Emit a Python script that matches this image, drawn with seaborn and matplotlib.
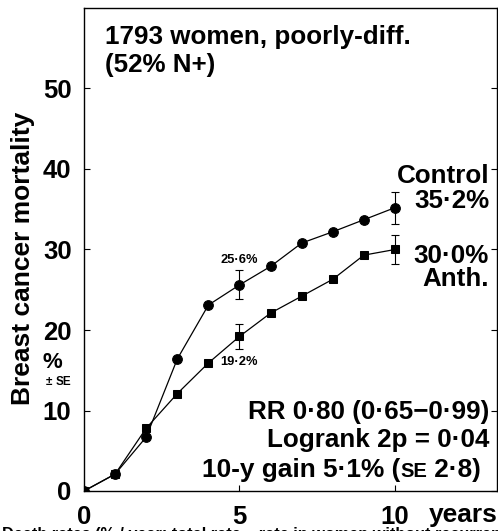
import pandas as pd
import matplotlib
matplotlib.use('Agg')
import matplotlib.pyplot as plt
import seaborn as sns

# data
years = [0, 1, 2, 3, 4, 5, 6, 7, 8, 9, 10]
control = [0, 2.1, 6.7, 16.4, 23.1, 25.6, 27.9, 30.8, 32.2, 33.7, 35.2]
anth = [0, 2.1, 7.8, 12.1, 15.9, 19.2, 22.1, 24.2, 26.3, 29.3, 30.0]
se_years = [5, 10]
control_se = [1.8, 2.0]
anth_se = [1.5, 1.85]

df = pd.DataFrame({'year': years, 'Control': control, 'Anth.': anth})

sns.set_style('ticks')
plt.rcParams['font.family'] = ['Liberation Sans', 'DejaVu Sans']
plt.rcParams['font.weight'] = 'bold'
for k in ['text.color', 'axes.labelcolor', 'xtick.color', 'ytick.color', 'axes.edgecolor']:
    plt.rcParams[k] = 'black'

W, H = 498, 531
fig = plt.figure(figsize=(W / 100, H / 100), dpi=100)
ax = fig.add_axes([84 / W, 1 - 491 / H, 413 / W, 483 / H])
renderer = fig.canvas.get_renderer()


def ftext(x, y, s, size, ha='center', va='center', **kw):
    # place text by pixel position in the figure
    return fig.text(x / W, 1 - y / H, s, fontsize=size, fontweight='bold', ha=ha, va=va, **kw)


def rtext_parts(x, y, parts):
    # right-aligned run of pieces with different sizes (for small-caps "SE")
    for s, size in reversed(parts):
        t = ftext(x, y, s, size, ha='right', va='baseline')
        x -= t.get_window_extent(renderer).width


sns.lineplot(data=df, x='year', y='Control', ax=ax, color='black', lw=0.9,
             marker='o', markersize=7, markeredgecolor='black')
sns.lineplot(data=df, x='year', y='Anth.', ax=ax, color='black', lw=0.9,
             marker='s', markersize=6.3, markeredgecolor='black')

ctrl_at = [control[years.index(y)] for y in se_years]
anth_at = [anth[years.index(y)] for y in se_years]
ax.errorbar(se_years, ctrl_at, yerr=control_se, fmt='none', ecolor='black',
            elinewidth=0.8, capsize=3, capthick=0.8)
ax.errorbar(se_years, anth_at, yerr=anth_se, fmt='none', ecolor='black',
            elinewidth=0.8, capsize=3, capthick=0.8)

ax.set_xlim(0, 13.28)
ax.set_ylim(0, 60)
ax.set_xticks([0, 5, 10])
ax.set_yticks([0, 10, 20, 30, 40, 50])
ax.tick_params(axis='both', direction='in', length=4, width=0.8,
               labelsize=18.5, right=True)
ax.tick_params(axis='y', pad=9)
ax.tick_params(axis='x', pad=10)
for lab in ax.get_xticklabels() + ax.get_yticklabels():
    lab.set_fontweight('bold')
for s in ax.spines.values():
    s.set_linewidth(1.0)
    s.set_visible(True)

ax.set_xlabel('')
ax.set_ylabel('')
ftext(23, 258, 'Breast cancer mortality', 19, rotation=90)

# text annotations
ftext(105, 37, '1793 women, poorly-diff.', 18.7, ha='left')
ftext(105, 65, '(52% N+)', 18.7, ha='left')
ftext(52, 362, '%', 16)
ftext(49, 382, '±', 8.5)
ftext(63, 382, 'SE', 8.5)

ftext(489, 176, 'Control', 18.7, ha='right')
ftext(489, 201, '35·2%', 18.7, ha='right')
ftext(489, 256, '30·0%', 18.7, ha='right')
ftext(489, 279, 'Anth.', 18.7, ha='right')

ax.text(5, 28.7, '25·6%', fontsize=9.3, fontweight='bold', ha='center', va='center')
ax.text(5, 16.0, '19·2%', fontsize=9.3, fontweight='bold', ha='center', va='center')

ftext(489, 412, 'RR 0·80 (0·65−0·99)', 18.7, ha='right')
ftext(489, 440, 'Logrank 2p = 0·04', 18.7, ha='right')
rtext_parts(481, 477, [('10-y gain 5·1% (', 18.9), ('SE', 14.5), (' 2·8)', 18.9)])

ftext(498, 515, 'years', 19, ha='right')
ftext(2, 535, 'Death rates (% / year: total rate – rate in women without recurrence)',
      11.7, ha='left')

fig.savefig('out.png', dpi=100)
